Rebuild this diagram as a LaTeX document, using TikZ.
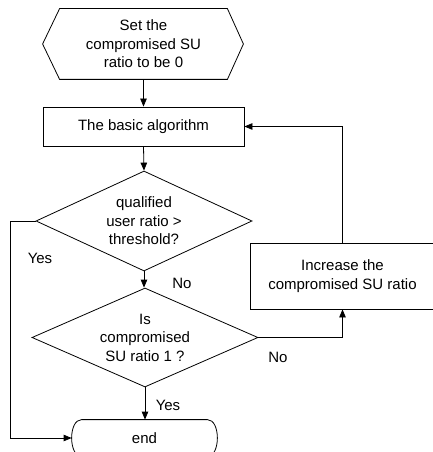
\documentclass[tikz,border=0pt]{standalone}
\usepackage{fontspec}
\setmainfont{Liberation Sans}
\usetikzlibrary{shapes.geometric,arrows.meta}
\begin{document}
\begin{tikzpicture}[x=1bp,y=-1bp, line width=0.8bp,
  every node/.style={font=\fontsize{15bp}{18.5bp}\selectfont, align=center, inner sep=0pt},
  arr/.style={-{Triangle[length=8bp,width=6.5bp]}},
  dia/.style={diamond, draw, aspect=2.2, inner sep=0pt},
  procbox/.style={draw, inner sep=0pt}]
\useasboundingbox (0,0) rectangle (433,452);
\clip (0,0) rectangle (433,452);
% start hexagon
\node[minimum width=167bp, minimum height=70bp] (start) at (143.5,44) {Set the\\compromised SU\\ratio to be 0};
\draw (start.north west) -- (start.north east) -- ([xshift=16bp]start.east) -- (start.south east)
  -- (start.south west) -- ([xshift=-17bp]start.west) -- cycle;
% basic algorithm
\node[procbox, minimum width=201bp, minimum height=39bp] (algo) at (143.5,126.5) {The basic algorithm};
% decisions
\node[dia, minimum width=216bp, minimum height=100bp] (d1) at (144,221) {qualified\\user ratio >\\threshold?};
\node[dia, minimum width=226bp, minimum height=99bp] (d2) at (145,337.5) {Is\\compromised\\SU ratio 1 ?};
% end terminal
\node[minimum width=145bp, minimum height=36bp] (endn) at (144.5,438) {end};
\draw ([xshift=10bp]endn.north west) -- ([xshift=-10bp]endn.north east)
  .. controls +(13.3,0) and +(13.3,0) .. ([xshift=-10bp]endn.south east)
  -- ([xshift=10bp]endn.south west)
  .. controls +(-13.3,0) and +(-13.3,0) .. ([xshift=10bp]endn.north west) -- cycle;
% increase box
\node[procbox, minimum width=185bp, minimum height=66bp] (inc) at (342.5,276) {Increase the\\compromised SU ratio};
% connectors
\draw[arr] (start.south) -- (algo.north);
\draw[arr] (algo.south) -- (d1.north);
\draw[arr] (d1.south) -- (d1.south |- d2.north);
\draw[arr] (d2.south) -- (d2.south |- endn.north);
\draw[arr] (d2.east) -| (inc.south);
\draw[arr] (inc.north) |- (algo.east);
\coordinate (lft) at (10,221);
\draw[arr] (d1.west) -- (lft) |- (endn.west);
% labels
\node (yes1) at (40,258) {Yes};
\node (no1) at (182,283) {No};
\node (yes2) at (168,405) {Yes};
\node (no2) at (278,357) {No};
\end{tikzpicture}
\end{document}
